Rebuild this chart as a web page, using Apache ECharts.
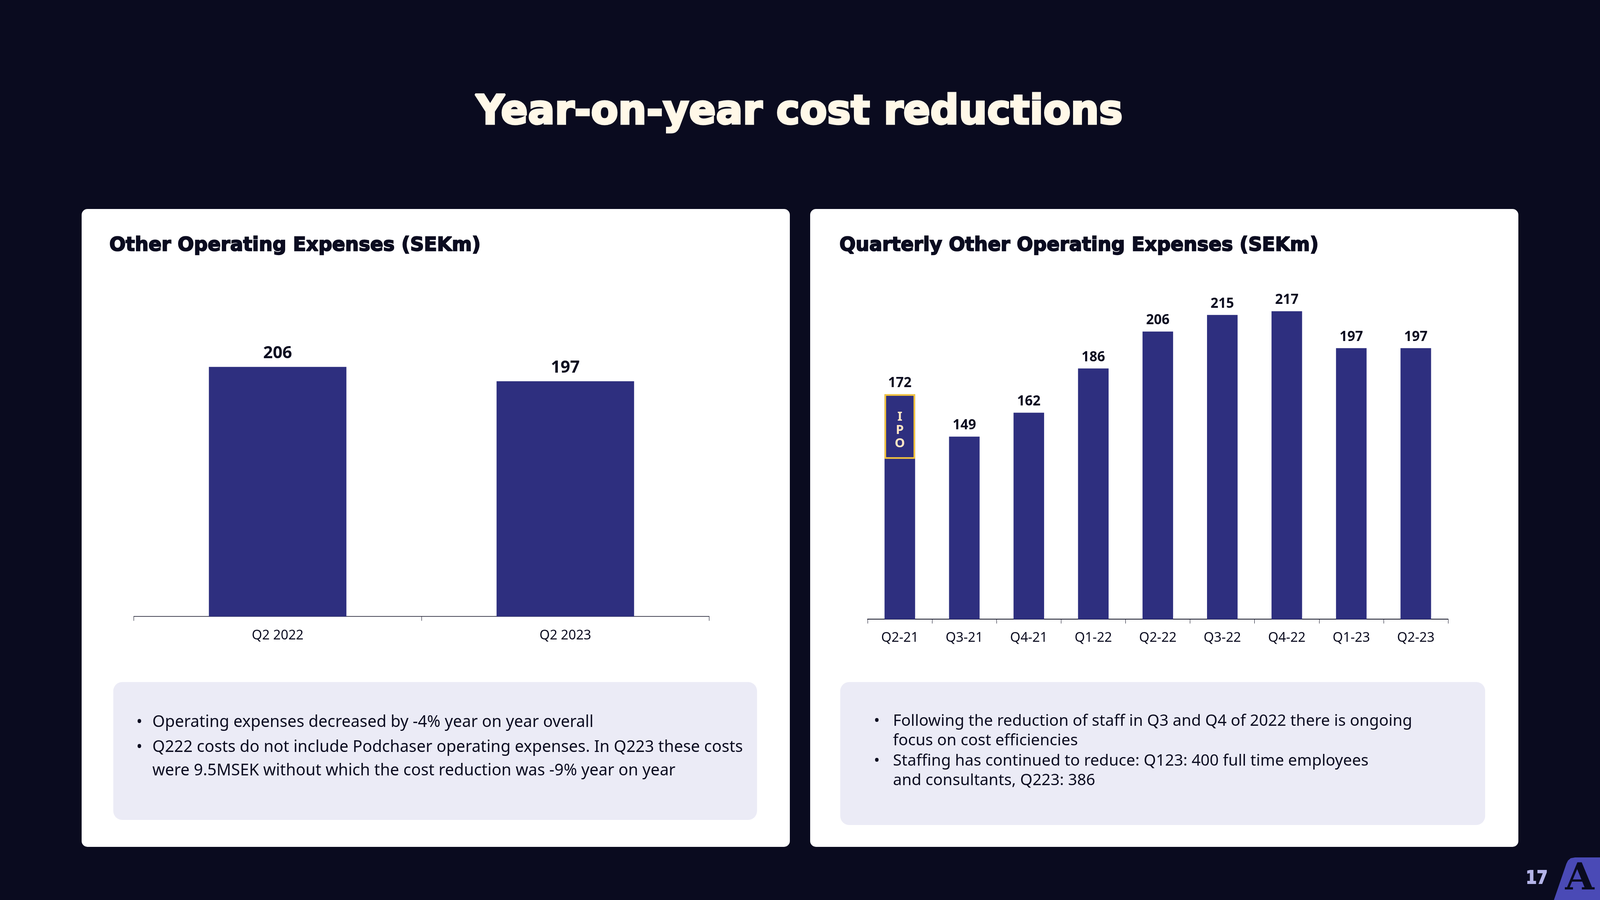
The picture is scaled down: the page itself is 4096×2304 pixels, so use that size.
<!DOCTYPE html>
<html><head><meta charset="utf-8">
<script src="https://cdn.jsdelivr.net/npm/echarts@6/dist/echarts.min.js"></script>
<style>html,body{margin:0;padding:0;background:#0a0b1f;}#c{width:4096px;height:2304px;}</style>
</head><body><div id="c"></div>
<script>
// ---- data ----
const leftCategories = ['Q2 2022', 'Q2 2023'];
const leftValues = [206, 197];
const rightCategories = ['Q2-21', 'Q3-21', 'Q4-21', 'Q1-22', 'Q2-22', 'Q3-22', 'Q4-22', 'Q1-23', 'Q2-23'];
const rightValues = [172, 149, 162, 186, 206, 215, 217, 197, 197];
const ipoRange = [137, 172];   // value span of the IPO marker on the first quarterly bar
const axisMin = 50, axisMax = 250;

const mainTitle = 'Year-on-year cost reductions';
const leftTitle = 'Other Operating Expenses (SEKm)';
const rightTitle = 'Quarterly Other Operating Expenses (SEKm)';
const leftNotes = [
  ['•', 'Operating expenses decreased by -4% year on year overall'],
  ['•', 'Q222 costs do not include Podchaser operating expenses. In Q223 these costs'],
  ['', 'were 9.5MSEK without which the cost reduction was -9% year on year']
];
const rightNotes = [
  ['•', 'Following the reduction of staff in Q3 and Q4 of 2022 there is ongoing'],
  ['', 'focus on cost efficiencies'],
  ['•', 'Staffing has continued to reduce: Q123: 400 full time employees'],
  ['', 'and consultants, Q223: 386']
];
const pageNumber = '17';

// ---- style ----
const BG = '#0a0b1f', DARK = '#0b0c20', BAR = '#2e2f7f', CREAM = '#fff8e8';
const TITLE_FONT = '"DejaVu Sans", sans-serif';
const BODY_FONT = '"Noto Sans", "Open Sans", sans-serif';

const ctx = document.createElement('canvas').getContext('2d');
function measure(text, font) { ctx.font = font; return ctx.measureText(text).width; }

// heavy heading text fitted horizontally to the reference width
function heading(text, x, y, size, targetW, fill, align, heavy) {
  const font = 'bold ' + size + 'px ' + TITLE_FONT;
  const w = measure(text, font) + heavy;
  return {type: 'text', z: 10, x: x, y: y, scaleX: targetW / w, scaleY: 1,
    style: {text: text, x: 0, y: 0, fill: fill, stroke: fill, lineWidth: heavy, font: font, align: align, verticalAlign: 'middle'}};
}

function noteTexts(notes, bx, tx, ys, longest, targetW) {
  const w = measure(longest, '400 40px ' + BODY_FONT);
  const size = Math.round(40 * targetW / w * 10) / 10;
  const out = [];
  notes.forEach((n, i) => {
    if (n[0]) out.push({type: 'text', z: 10, style: {text: n[0], x: bx, y: ys[i], fill: DARK, font: '400 ' + size + 'px ' + BODY_FONT, verticalAlign: 'middle'}});
    out.push({type: 'text', z: 10, style: {text: n[1], x: tx, y: ys[i], fill: DARK, font: '400 ' + size + 'px ' + BODY_FONT, verticalAlign: 'middle'}});
  });
  return out;
}

const graphics = [
  {type: 'rect', z: -10, shape: {x: 209, y: 535, width: 1813, height: 1633, r: 15}, style: {fill: '#ffffff'}},
  {type: 'rect', z: -10, shape: {x: 2074, y: 535, width: 1813, height: 1633, r: 15}, style: {fill: '#ffffff'}},
  {type: 'rect', z: -9, shape: {x: 290, y: 1746, width: 1648, height: 353, r: 23}, style: {fill: '#ebebf6'}},
  {type: 'rect', z: -9, shape: {x: 2151, y: 1746, width: 1651, height: 366, r: 23}, style: {fill: '#ebebf6'}},
  heading(mainTitle, 2046, 290, 103, 1661, CREAM, 'center', 5),
  heading(leftTitle, 280, 629, 49, 953, DARK, 'left', 2.5),
  heading(rightTitle, 2149, 629, 49, 1229, DARK, 'left', 2.5),
  {type: 'polygon', z: 10, shape: {points: [[3978, 2304], [4010, 2211], [4014, 2203], [4021, 2197], [4032, 2195], [4096, 2195], [4096, 2304]]}, style: {fill: '#4a4ab6'}},
  {type: 'text', z: 11, style: {text: 'A', x: 4044, y: 2252, fill: BG, font: 'bold 96px "DejaVu Serif", serif', align: 'center', verticalAlign: 'middle'}},
  heading(pageNumber, 3934, 2250, 46, 58, '#b4b4e8', 'center', 2)
].concat(
  noteTexts(leftNotes, 349, 390, [1849, 1913, 1973], leftNotes[1][1], 1511),
  noteTexts(rightNotes, 2237, 2286, [1846, 1896, 1948, 1998], rightNotes[0][1], 1331)
);

function catAxis(idx, data, margin) {
  return {
    type: 'category', gridIndex: idx, data: data,
    axisLine: {lineStyle: {color: DARK, width: idx === 0 ? 1.5 : 2.2}},
    axisTick: {show: true, length: 11, lineStyle: {color: DARK, width: 1}},
    axisLabel: {color: DARK, fontFamily: BODY_FONT, fontSize: 34, margin: margin}
  };
}
function valAxis(idx) {
  return {type: 'value', gridIndex: idx, min: axisMin, max: axisMax, show: false, splitLine: {show: false}};
}

const option = {
  backgroundColor: BG,
  animation: false,
  graphic: graphics,
  grid: [
    {left: 342.5, top: 759, width: 1473, height: 819.2, containLabel: false},
    {left: 2221, top: 641, width: 1486, height: 944.2, containLabel: false}
  ],
  xAxis: [catAxis(0, leftCategories, 32), catAxis(1, rightCategories, 31)],
  yAxis: [valAxis(0), valAxis(1)],
  series: [
    {
      type: 'bar', xAxisIndex: 0, yAxisIndex: 0, data: leftValues, barWidth: '47.8%',
      itemStyle: {color: BAR},
      label: {show: true, position: 'top', distance: 13, color: DARK, fontFamily: BODY_FONT, fontWeight: 'bold', fontSize: 43}
    },
    {
      type: 'bar', xAxisIndex: 1, yAxisIndex: 1, data: rightValues, barWidth: '47.4%', barGap: '-100%',
      itemStyle: {color: BAR},
      label: {show: true, position: 'top', distance: 11, color: DARK, fontFamily: BODY_FONT, fontWeight: 'bold', fontSize: 35}
    },
    {
      type: 'bar', xAxisIndex: 1, yAxisIndex: 1, stack: 'ipo', barWidth: '47.4%', barGap: '-100%', silent: true, z: 3,
      data: rightCategories.map((c, i) => i === 0 ? ipoRange[0] : '-'),
      itemStyle: {color: 'rgba(0,0,0,0)'}
    },
    {
      type: 'bar', xAxisIndex: 1, yAxisIndex: 1, stack: 'ipo', barWidth: '47.4%', barGap: '-100%', silent: true, z: 3,
      data: rightCategories.map((c, i) => i === 0 ? ipoRange[1] - ipoRange[0] : '-'),
      itemStyle: {color: 'rgba(0,0,0,0)', borderColor: '#fcca3a', borderWidth: 4},
      label: {show: true, position: 'inside', offset: [0, 10], formatter: 'I\nP\nO', color: '#fde6c4',
        fontFamily: BODY_FONT, fontWeight: 'bold', fontSize: 33, lineHeight: 34}
    }
  ]
};
const chart = echarts.init(document.getElementById('c'), null, {renderer: 'canvas'});
chart.setOption(option);
</script>
</body></html>
